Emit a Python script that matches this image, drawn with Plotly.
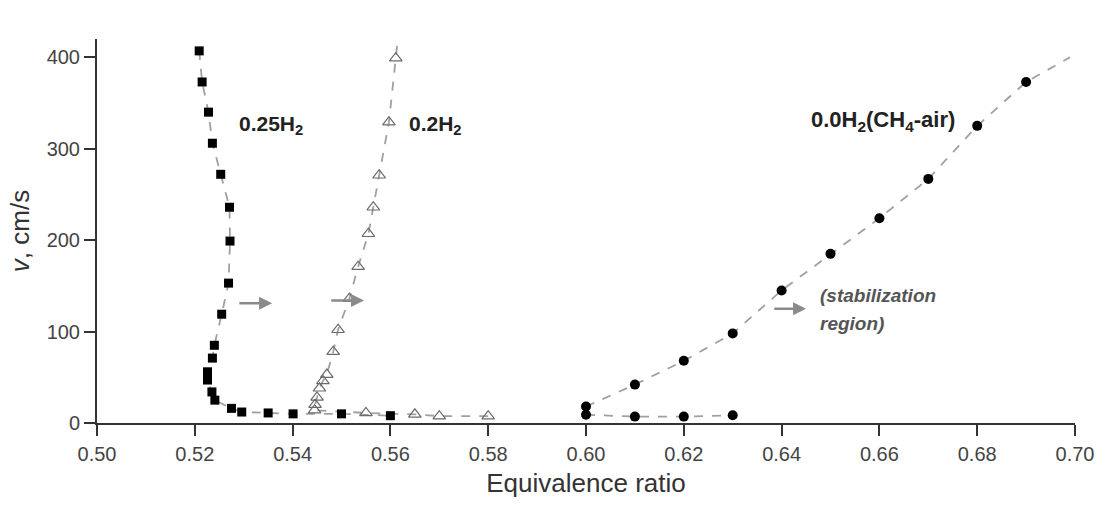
import plotly.graph_objects as go

# 0.25H2 (filled squares), ordered along the curve
sq_x = [0.5209, 0.5215, 0.5228, 0.5236, 0.5253, 0.5271, 0.5272, 0.5269, 0.5255, 0.5240,
        0.5236, 0.5226, 0.5226, 0.5235, 0.5241, 0.5275, 0.5296, 0.5350, 0.5401, 0.5500, 0.5600]
sq_y = [407, 373, 340, 306, 272, 236, 199, 153, 119, 85,
        71, 56, 47, 34, 25, 16, 12, 11, 10, 10, 8]

# 0.2H2 (open triangles), ordered along the curve
tr_x = [0.580, 0.570, 0.565, 0.555, 0.5445, 0.5446, 0.5450, 0.5455, 0.5462, 0.5470,
        0.5483, 0.5493, 0.5516, 0.5534, 0.5555, 0.5565, 0.5577, 0.5597, 0.5611]
tr_y = [7.5, 7.5, 9.5, 11, 14, 20, 28, 38, 46, 53,
        78, 102, 136, 171, 207, 236, 271, 329, 399]
tr_fit_x = [0.5615]
tr_fit_y = [420]

# 0.0H2 (CH4-air) filled circles: upper branch and lower branch
ci_up_x = [0.60, 0.61, 0.62, 0.63, 0.64, 0.65, 0.66, 0.67, 0.68, 0.69]
ci_up_y = [18, 42, 68, 98, 145, 185, 224, 267, 325, 373]
ci_up_fit_x = [0.699]
ci_up_fit_y = [400]
ci_lo_x = [0.60, 0.61, 0.62, 0.63]
ci_lo_y = [9, 7, 7, 8.5]

x_ticks = [0.50, 0.52, 0.54, 0.56, 0.58, 0.60, 0.62, 0.64, 0.66, 0.68, 0.70]
y_ticks = [0, 100, 200, 300, 400]

FONT = "Liberation Sans, Arial, sans-serif"
DASH_COL = "#a0a0a0"

fig = go.Figure()

def dashed(x, y):
    fig.add_trace(go.Scatter(x=x, y=y, mode="lines",
                             line=dict(color=DASH_COL, width=1.8, dash="dash"),
                             showlegend=False, hoverinfo="skip"))

dashed(sq_x, sq_y)
dashed(tr_x + tr_fit_x, tr_y + tr_fit_y)
dashed(ci_up_x + ci_up_fit_x, ci_up_y + ci_up_fit_y)
dashed(ci_lo_x, ci_lo_y)

fig.add_trace(go.Scatter(x=sq_x, y=sq_y, mode="markers", name="0.25H2",
                         marker=dict(symbol="square", size=9, color="black"),
                         showlegend=False))
fig.add_trace(go.Scatter(x=tr_x, y=tr_y, mode="markers", name="0.2H2",
                         marker=dict(symbol="triangle-up-open", size=11, color="#6a6a6a",
                                     line=dict(width=1.2)),
                         showlegend=False))
fig.add_trace(go.Scatter(x=ci_up_x + ci_lo_x, y=ci_up_y + ci_lo_y, mode="markers",
                         name="0.0H2",
                         marker=dict(symbol="circle", size=10, color="black"),
                         showlegend=False))

label_font = dict(family=FONT, size=21, color="#222")
fig.add_annotation(x=0.5356, y=326, text="<b>0.25H<sub>2</sub></b>", showarrow=False,
                   font=label_font)
fig.add_annotation(x=0.5693, y=326, text="<b>0.2H<sub>2</sub></b>", showarrow=False,
                   font=label_font)
fig.add_annotation(x=0.6608, y=330, text="<b>0.0H<sub>2</sub>(CH<sub>4</sub>-air)</b>",
                   showarrow=False, font=dict(family=FONT, size=22, color="#222"))
stab_font = dict(family=FONT, size=19, color="#555")
fig.add_annotation(x=0.6474, y=140, text="<i><b>(stabilization</b></i>",
                   showarrow=False, xanchor="left", font=stab_font)
fig.add_annotation(x=0.6474, y=109, text="<i><b>region)</b></i>",
                   showarrow=False, xanchor="left", font=stab_font)

# arrows
for (xs, xe, yy) in [(0.5288, 0.5358, 131), (0.5476, 0.5546, 134), (0.6382, 0.6450, 125)]:
    fig.add_annotation(x=xe, y=yy, ax=xs, ay=yy, xref="x", yref="y", axref="x", ayref="y",
                       showarrow=True, arrowhead=2, arrowsize=1, arrowwidth=2.6,
                       arrowcolor="#8a8a8a", text="")

fig.update_xaxes(range=[0.5, 0.7], tickvals=x_ticks,
                 ticktext=[f"{v:.2f}" for v in x_ticks],
                 showline=True, linecolor="#333", linewidth=2, mirror=False,
                 ticks="outside", ticklen=11, tickwidth=1.5, tickcolor="#333",
                 ticklabelstandoff=1, automargin=False, ticklabeloverflow="allow",
                 showgrid=False, zeroline=False,
                 tickfont=dict(family=FONT, size=20, color="#444"),
                 title=dict(text="Equivalence ratio", font=dict(family=FONT, size=26, color="#333"),
                            standoff=10))
fig.update_yaxes(range=[0, 420], tickvals=y_ticks,
                 showline=True, linecolor="#333", linewidth=2, mirror=False,
                 ticks="outside", ticklen=11, tickwidth=1.5, tickcolor="#333",
                 automargin=False,
                 showgrid=False, zeroline=False,
                 tickfont=dict(family=FONT, size=20, color="#444"),
                 title=dict(text="<i>v</i>, cm/s", font=dict(family=FONT, size=26, color="#333"),
                            standoff=10))

fig.update_layout(width=1097, height=506, plot_bgcolor="white", paper_bgcolor="white",
                  margin=dict(l=97, r=22, t=39, b=83))

# remove the default 8px page margin so the figure fills the 1097x506 window exactly
fig.write_html("out.html", config={"displayModeBar": False},
               post_script="document.body.style.margin='0';")
